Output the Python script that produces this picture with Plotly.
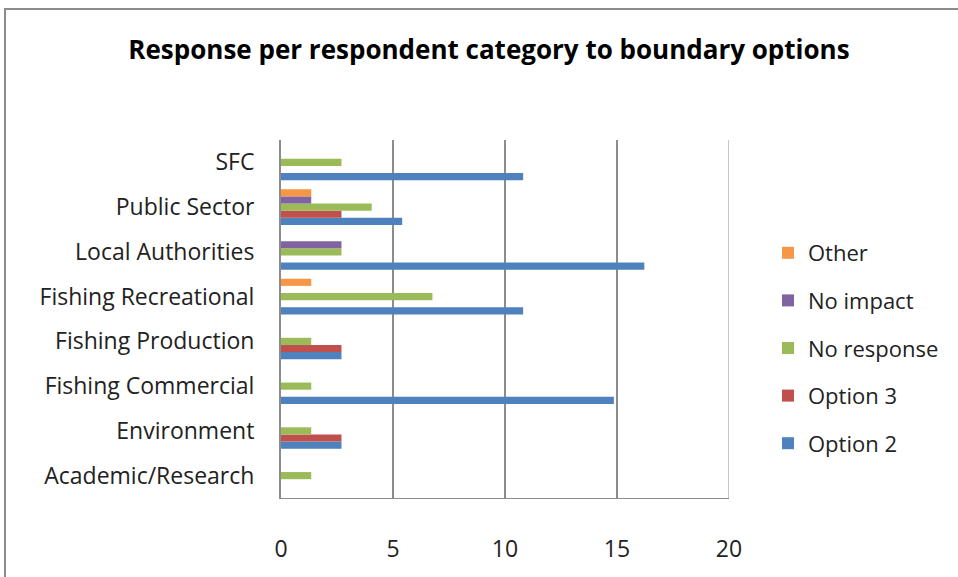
import plotly.graph_objects as go

# Respondent categories, bottom to top on the axis
categories = ["Academic/Research", "Environment", "Fishing Commercial", "Fishing Production",
              "Fishing Recreational", "Local Authorities", "Public Sector", "SFC"]

# Percentage of responses per category for each boundary option
option2 = [0, 2.7, 14.86, 2.7, 10.81, 16.22, 5.41, 10.81]
option3 = [0, 2.7, 0, 2.7, 0, 0, 2.7, 0]
no_response = [1.35, 1.35, 1.35, 1.35, 6.76, 2.7, 4.05, 2.7]
no_impact = [0, 0, 0, 0, 0, 2.7, 1.35, 0]
other = [0, 0, 0, 0, 1.35, 0, 1.35, 0]

x_ticks = [0, 5, 10, 15, 20]

series = [
    ("Option 2", option2, "#4F81BD"),
    ("Option 3", option3, "#C0504D"),
    ("No response", no_response, "#9BBB59"),
    ("No impact", no_impact, "#8064A2"),
    ("Other", other, "#F79646"),
]

FONT = "Open Sans, Liberation Sans, sans-serif"
TXT = "#222222"
FS = 23

fig = go.Figure()
n = len(series)
for i, (name, vals, color) in enumerate(series):
    fig.add_trace(go.Bar(
        y=categories, x=vals, name=name, orientation="h",
        marker=dict(color=color, line=dict(width=0)),
        legendgroup=name, legendrank=1000 + (n - i),
    ))

W, H = 958, 577
L, R, T, B = 281, 729, 140, 498

def px_x(p):
    return (p - L) / (R - L)

def px_y(p):
    return (B - p) / (B - T)

fig.update_layout(
    width=W, height=H,
    margin=dict(l=L, r=W - R, t=T, b=H - B),
    paper_bgcolor="white", plot_bgcolor="white",
    barmode="group", bargap=0.2, bargroupgap=0,
    font=dict(family=FONT, size=FS, color=TXT),
    title=dict(text="<b>Response per respondent category to boundary options</b>",
               x=489 / W, xanchor="center", y=1 - 50 / H, yanchor="middle",
               font=dict(family=FONT, size=26, color="black")),
    legend=dict(x=px_x(768), xanchor="left", y=px_y(232), yanchor="top",
                traceorder="grouped", tracegroupgap=16,
                font=dict(family=FONT, size=22, color=TXT),
                bgcolor="rgba(0,0,0,0)"),
    xaxis=dict(range=[0, 20], tickvals=x_ticks, ticks="", showgrid=True,
               gridcolor="#8c8c8c", gridwidth=2, showline=True, linecolor="#8c8c8c",
               linewidth=1, zeroline=False, ticklabelstandoff=30, mirror=False,
               tickfont=dict(family=FONT, size=FS, color=TXT)),
    yaxis=dict(showgrid=False, showline=True, linecolor="#8c8c8c", linewidth=2,
               ticks="", ticklabelstandoff=20,
               tickfont=dict(family=FONT, size=FS, color=TXT)),
    shapes=[
        # right edge of plot area at 20
        dict(type="line", xref="x", yref="paper", x0=20, x1=20, y0=0, y1=1,
             line=dict(color="#8c8c8c", width=1)),
        # chart frame
        dict(type="rect", xref="paper", yref="paper",
             x0=px_x(5), x1=px_x(1000), y0=px_y(9), y1=px_y(620),
             line=dict(color="#8c8c8c", width=2), layer="below"),
    ],
)

fig.write_html("out.html")
